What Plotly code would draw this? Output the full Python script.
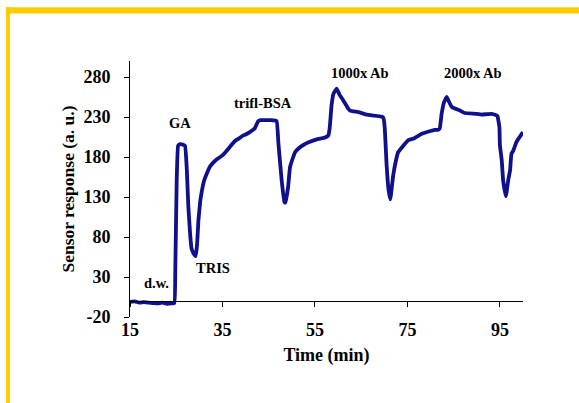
import plotly.graph_objects as go

# Time (min) and sensor response (a. u.)
time_min = [15, 16, 17, 18, 19, 20, 21, 22, 23, 24, 24.6,
            24.8, 25.1, 25.4, 25.8, 26.4, 26.9,
            27.3, 27.6, 28.0, 28.3, 28.7, 29.2, 29.5, 29.8, 30.2, 30.5, 31.0, 31.6,
            32.3, 33.0, 34.0, 35.0, 35.5, 36.5, 37.7, 38.5, 39.5, 40.0, 40.9,
            42.0, 42.7, 43.2, 44.5, 45.5, 46.7,
            47.1, 47.8, 48.4, 48.6, 49.2, 49.6, 50.3, 50.7, 51.5, 52.5, 53.5, 55.4, 57.2, 57.9,
            58.2, 58.6, 59.0, 59.7, 60.3, 61.1, 62.2, 62.6, 64.4, 66.2, 67.3, 69.4, 69.8,
            70.1, 70.5, 70.9, 71.3, 71.9, 72.5, 73.0, 73.4, 75.2, 76.3, 78.1, 79.1, 80.9, 81.7,
            82.0, 82.4, 82.9, 83.5, 84.0, 84.6, 86.4, 87.4, 90.0, 91.0, 93.2, 94.3,
            94.5, 94.9, 95.0, 95.4, 95.7, 96.3, 96.8, 97.2, 97.5, 97.9, 98.6, 100.0]
response = [-1, -0.5, -2, -1.5, -2, -2.5, -3, -2, -3.5, -3, -2.5,
            40, 150, 194, 196, 195.5, 194,
            163, 120, 84, 66, 60, 56, 70, 101, 125, 136, 150, 159,
            168, 173, 178, 182, 185, 192, 200, 203, 207, 208, 211,
            216, 224.6, 226, 226, 226, 225,
            197, 151, 123.5, 123, 142.5, 167, 180, 186, 191, 195, 198, 202, 204.5, 207,
            217, 245, 259, 265.5, 258, 251, 240.5, 238, 236, 233, 232, 230.5, 229,
            216, 170, 140, 127, 156, 175, 186, 189, 201, 203, 209, 211, 214, 214,
            216, 234, 248, 255, 249, 242.5, 238, 235, 234, 233, 234, 232,
            231, 217, 195, 176, 151, 131, 151, 163, 184, 188, 199, 211]

# Event labels
label_text = ["d.w.", "GA", "TRIS", "trifl-BSA", "1000x Ab", "2000x Ab"]
label_x = [20.8, 25.8, 32.9, 43.8, 64.7, 89.2]
label_y = [22, 223, 41, 247, 285, 285]

x_ticks = [15, 35, 55, 75, 95]
y_ticks = [-20, 30, 80, 130, 180, 230, 280]

FONT = "Liberation Serif"

fig = go.Figure()
fig.add_trace(go.Scatter(
    x=time_min, y=response, mode="lines",
    line=dict(color="#10108c", width=3.8, shape="spline", smoothing=0.3),
    showlegend=False, hoverinfo="skip"))

for t, x, y in zip(label_text, label_x, label_y):
    fig.add_annotation(x=x, y=y, text="<b>%s</b>" % t, showarrow=False,
                       font=dict(family=FONT, size=14.5, color="black"))

# yellow slide frame
fig.add_shape(type="rect", xref="paper", yref="paper",
              x0=-0.3155, x1=1.2, y0=1.186, y1=1.2098,
              fillcolor="#ffcc00", line=dict(width=0), layer="below")
fig.add_shape(type="rect", xref="paper", yref="paper",
              x0=-0.3155, x1=-0.3053, y0=-0.4, y1=1.2098,
              fillcolor="#ffcc00", line=dict(width=0), layer="below")

fig.update_layout(
    width=579, height=403,
    margin=dict(l=130, r=56, t=61, b=86),
    paper_bgcolor="white", plot_bgcolor="white",
    font=dict(family=FONT, size=18, color="black"),
    xaxis=dict(range=[15, 100], tickvals=x_ticks, ticks="outside", ticklen=5,
               tickcolor="black", showline=True, linecolor="black", linewidth=1,
               showgrid=False, zeroline=False, anchor="free", position=0.0625,
               ticklabelstandoff=7,
               tickfont=dict(family=FONT, size=18, color="black", weight="bold"),
               ticktext=[str(v) for v in x_ticks],
               title=dict(text="<b>Time (min)</b>", standoff=9,
                          font=dict(family=FONT, size=18, color="black"))),
    yaxis=dict(range=[-20, 300], tickvals=y_ticks,
               ticktext=[str(v) for v in y_ticks],
               ticks="outside", ticklen=5, tickcolor="black",
               showline=True, linecolor="black", linewidth=1,
               showgrid=False, zeroline=False, ticklabelstandoff=10,
               tickfont=dict(family=FONT, size=18, color="black", weight="bold"),
               title=dict(text="<b>Sensor response (a. u.)</b>", standoff=4,
                          font=dict(family=FONT, size=17.5, color="black"))),
)

fig.write_html("out.html", config={"displayModeBar": False},
               post_script="document.body.style.margin='0';")
